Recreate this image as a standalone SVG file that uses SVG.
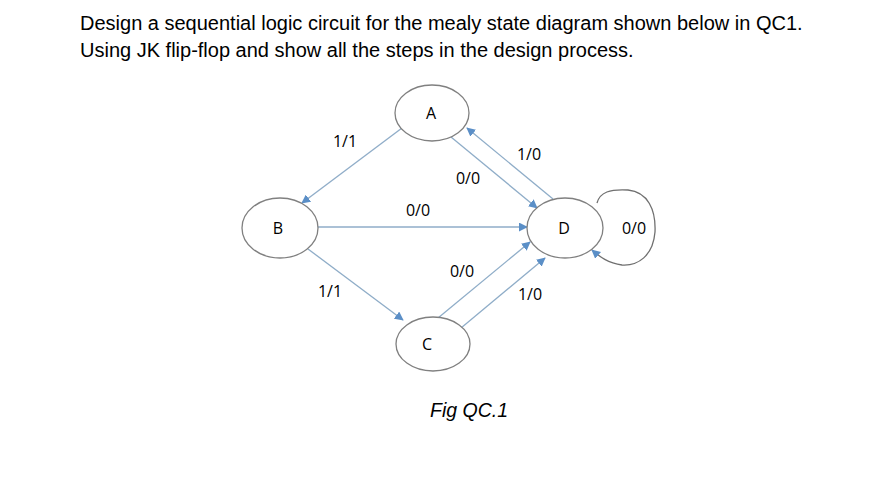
<svg xmlns="http://www.w3.org/2000/svg" width="884" height="478" viewBox="0 0 884 478">
<style>
.title{font-family:"Liberation Sans",Arial,sans-serif;font-size:20px;fill:#000}
.node{fill:#fff;stroke:#808080;stroke-width:1.3}
.nl{font-family:"Open Sans","Liberation Sans",sans-serif;font-size:16px;fill:#000;text-anchor:middle}
.el{font-family:"Open Sans","Liberation Sans",sans-serif;font-size:16px;fill:#000;text-anchor:middle}
.edge{fill:none;stroke:#8fadc8;stroke-width:1.3}
.cap{font-family:"Liberation Sans",Arial,sans-serif;font-size:19.5px;font-style:italic;fill:#000;text-anchor:middle}
</style>
<defs>
<marker id="arr" viewBox="0 0 10 10" refX="9" refY="5" markerWidth="9" markerHeight="9" markerUnits="userSpaceOnUse" orient="auto">
<path d="M0,0 L10,5 L0,10 z" fill="#5b8fc7"/>
</marker>
</defs>
<rect width="884" height="478" fill="#fff"/>
<text class="title" x="80" y="30">Design a sequential logic circuit for the mealy state diagram shown below in QC1.</text>
<text class="title" x="80" y="57">Using JK flip-flop and show all the steps in the design process.</text>
<g id="connectors">
<line class="edge" x1="402" y1="128" x2="302" y2="203" marker-end="url(#arr)"/>
<line class="edge" x1="451" y1="137" x2="537" y2="208" marker-end="url(#arr)"/>
<line class="edge" x1="553" y1="199" x2="467" y2="128" marker-end="url(#arr)"/>
<line class="edge" x1="316" y1="227" x2="527" y2="227" marker-end="url(#arr)"/>
<line class="edge" x1="308" y1="249" x2="403" y2="320" marker-end="url(#arr)"/>
<line class="edge" x1="438" y1="318" x2="530" y2="242" marker-end="url(#arr)"/>
<line class="edge" x1="461" y1="328" x2="545" y2="258" marker-end="url(#arr)"/>
<path d="M597,203 C600,192 610,189 628,190 C648,192 656,210 655,232 C653,256 638,266 622,265 C608,263 600,257 592,250" fill="none" stroke="#707070" stroke-width="1.3" marker-end="url(#arr)"/>
<text class="el" x="345" y="147">1/1</text>
<text class="el" x="468" y="184">0/0</text>
<text class="el" x="529" y="160">1/0</text>
<text class="el" x="418" y="216">0/0</text>
<text class="el" x="330" y="297">1/1</text>
<text class="el" x="462" y="277">0/0</text>
<text class="el" x="530" y="300">1/0</text>
<text class="el" x="634" y="234">0/0</text>
</g>
<g id="A"><ellipse class="node" cx="432" cy="113" rx="37" ry="28"/><text class="nl" x="431" y="119">A</text></g>
<g id="B"><ellipse class="node" cx="280" cy="228" rx="38" ry="30"/><text class="nl" x="278" y="234">B</text></g>
<g id="C"><ellipse class="node" cx="433" cy="344" rx="37" ry="27"/><text class="nl" x="427" y="350">C</text></g>
<g id="D"><ellipse class="node" cx="565" cy="228" rx="38" ry="30"/><text class="nl" x="564" y="234">D</text></g>
<text class="cap" x="469" y="417">Fig QC.1</text>
</svg>
